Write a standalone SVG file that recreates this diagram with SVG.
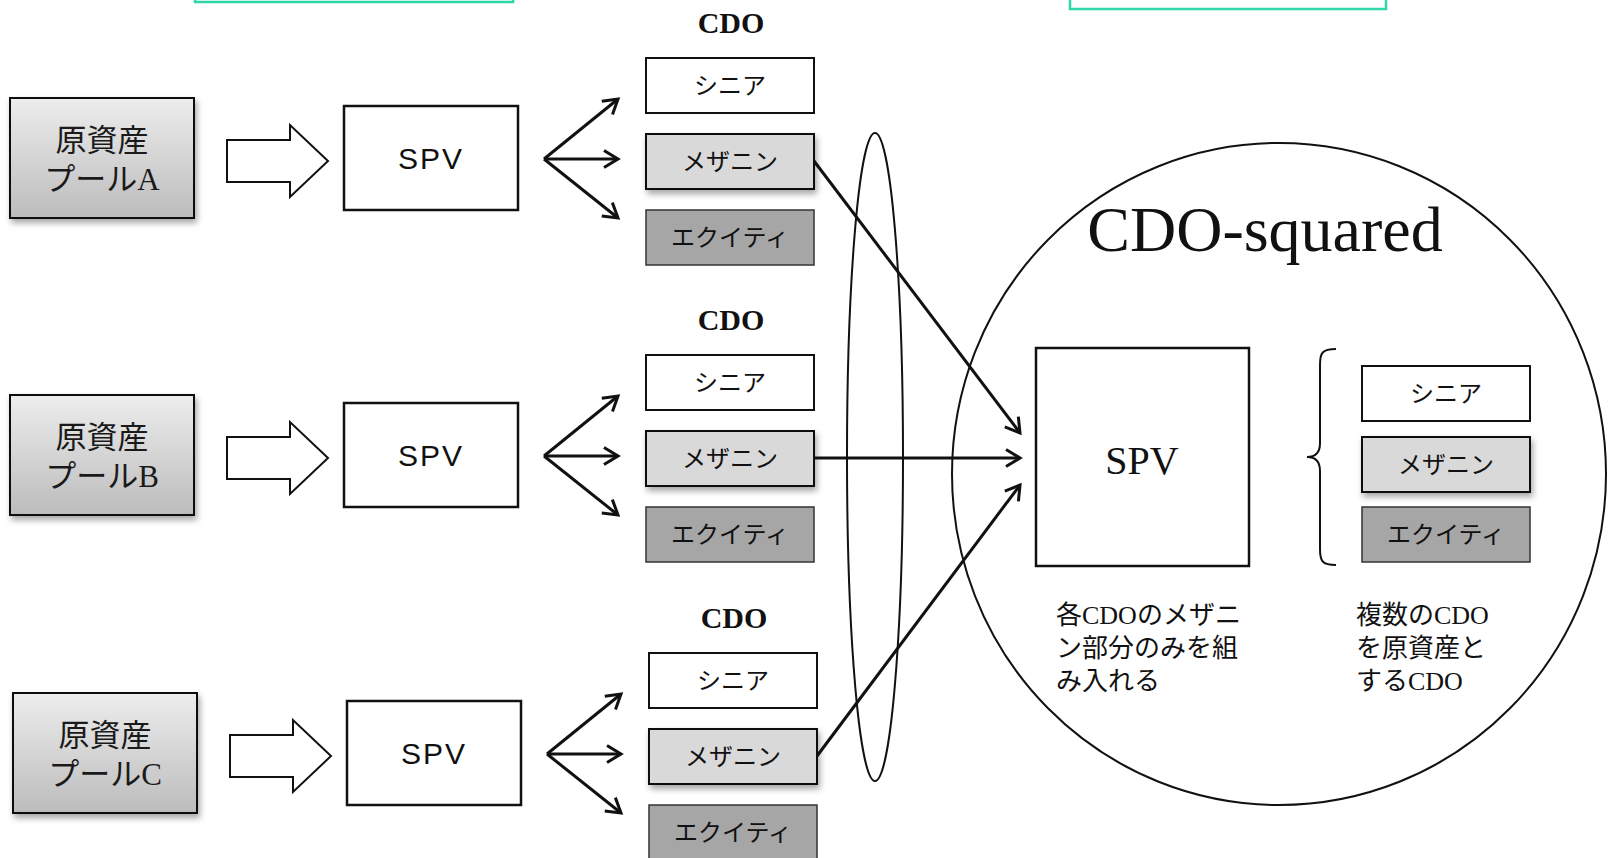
<svg xmlns="http://www.w3.org/2000/svg" width="1608" height="858" viewBox="0 0 1608 858">
  <style>
    .pool { fill: url(#poolGrad); stroke: #111; stroke-width: 2; filter: url(#shadow); }
    .spv { fill: #fff; stroke: #111; stroke-width: 2.5; }
    .senior { fill: #fff; stroke: #111; stroke-width: 2; }
    .mezz { fill: #d9d9d9; stroke: #111; stroke-width: 2; filter: url(#shadow); }
    .equity { fill: #a6a6a6; stroke: #333; stroke-width: 1.5; }
    .block { fill: #fff; stroke: #111; stroke-width: 2; }
    .fan { fill: none; stroke: #111; stroke-width: 3; marker-end: url(#open); }
    .link { fill: none; stroke: #111; stroke-width: 3; marker-end: url(#open); }
    .outline { fill: none; stroke: #111; stroke-width: 2; }
    .teal { fill: none; stroke: #2fd6aa; stroke-width: 2.5; }
    .pt { font-family: "Liberation Serif", "Noto Sans CJK JP", serif; font-size: 31px; fill: #1a1a1a; text-anchor: middle; }
    .tr { font-family: "Noto Sans CJK JP", "Liberation Sans", sans-serif; font-size: 24px; fill: #111; text-anchor: middle; }
    .spvt { font-family: "Liberation Sans", Arial, sans-serif; font-size: 30px; fill: #111; text-anchor: middle; letter-spacing: 2px; }
    .cdo { font-family: "Liberation Serif", serif; font-size: 30px; font-weight: bold; fill: #111; text-anchor: middle; }
    .cap { font-family: "Liberation Serif", "Noto Sans CJK JP", serif; font-size: 26px; fill: #111; }
  </style>
  <defs>
    <linearGradient id="poolGrad" x1="0" y1="0" x2="0" y2="1">
      <stop offset="0" stop-color="#ededed"/>
      <stop offset="1" stop-color="#bcbcbc"/>
    </linearGradient>
    <filter id="shadow" x="-10%" y="-10%" width="130%" height="140%">
      <feDropShadow dx="2" dy="4" stdDeviation="3" flood-color="#000" flood-opacity="0.35"/>
    </filter>
    <marker id="open" markerUnits="userSpaceOnUse" markerWidth="20" markerHeight="20" viewBox="0 0 20 20" refX="17" refY="10" orient="auto">
      <path d="M3,1.5 L17,10 L3,18.5" fill="none" stroke="#111" stroke-width="3" stroke-linejoin="miter"/>
    </marker>
    <path id="blockArrow" d="M0,15 H63 V0 L101,36 L63,72 V57 H0 Z"/>
  </defs>

  <!-- partial frames along the top edge -->
  <rect class="teal" x="195" y="-30" width="318" height="32"/>
  <rect class="teal" x="1070" y="-30" width="316" height="39"/>

  <!-- group ellipse around the mezzanine tranches -->
  <ellipse id="mezz-group" class="outline" cx="875" cy="457" rx="28" ry="324"/>

  <!-- CDO-squared boundary -->
  <g id="cdo-squared">
    <ellipse class="outline" cx="1279" cy="474" rx="327" ry="331"/>
    <text x="1265" y="251" font-family="Liberation Serif, serif" font-size="64" fill="#111" text-anchor="middle">CDO-squared</text>
  </g>

  <!-- row A -->
  <g id="pool-a">
    <rect class="pool" x="10" y="98" width="184" height="120"/>
    <text class="pt" x="102" y="151">原資産</text>
    <text class="pt" x="102" y="190">プールA</text>
  </g>
  <use href="#blockArrow" class="block" x="227" y="125"/>
  <g id="spv-a">
    <rect class="spv" x="344" y="106" width="174" height="104"/>
    <text class="spvt" x="431" y="169">SPV</text>
  </g>
  <g id="cdo-a">
    <text class="cdo" x="731" y="33">CDO</text>
    <rect class="senior" x="646" y="58" width="168" height="55"/>
    <text class="tr" x="730" y="94">シニア</text>
    <rect class="mezz" x="646" y="134" width="168" height="55"/>
    <text class="tr" x="730" y="170">メザニン</text>
    <rect class="equity" x="646" y="210" width="168" height="55"/>
    <text class="tr" x="730" y="246">エクイティ</text>
  </g>

  <!-- row B -->
  <g id="pool-b">
    <rect class="pool" x="10" y="395" width="184" height="120"/>
    <text class="pt" x="102" y="448">原資産</text>
    <text class="pt" x="102" y="487">プールB</text>
  </g>
  <use href="#blockArrow" class="block" x="227" y="422"/>
  <g id="spv-b">
    <rect class="spv" x="344" y="403" width="174" height="104"/>
    <text class="spvt" x="431" y="466">SPV</text>
  </g>
  <g id="cdo-b">
    <text class="cdo" x="731" y="330">CDO</text>
    <rect class="senior" x="646" y="355" width="168" height="55"/>
    <text class="tr" x="730" y="391">シニア</text>
    <rect class="mezz" x="646" y="431" width="168" height="55"/>
    <text class="tr" x="730" y="467">メザニン</text>
    <rect class="equity" x="646" y="507" width="168" height="55"/>
    <text class="tr" x="730" y="543">エクイティ</text>
  </g>

  <!-- row C -->
  <g id="pool-c">
    <rect class="pool" x="13" y="693" width="184" height="120"/>
    <text class="pt" x="105" y="746">原資産</text>
    <text class="pt" x="105" y="785">プールC</text>
  </g>
  <use href="#blockArrow" class="block" x="230" y="720"/>
  <g id="spv-c">
    <rect class="spv" x="347" y="701" width="174" height="104"/>
    <text class="spvt" x="434" y="764">SPV</text>
  </g>
  <g id="cdo-c">
    <text class="cdo" x="734" y="628">CDO</text>
    <rect class="senior" x="649" y="653" width="168" height="55"/>
    <text class="tr" x="733" y="689">シニア</text>
    <rect class="mezz" x="649" y="729" width="168" height="55"/>
    <text class="tr" x="733" y="765">メザニン</text>
    <rect class="equity" x="649" y="805" width="168" height="55"/>
    <text class="tr" x="733" y="841">エクイティ</text>
  </g>

  <!-- CDO-squared vehicle -->
  <g id="spv-sq">
    <rect class="spv" x="1036" y="348" width="213" height="218"/>
    <text x="1142" y="474" font-family="Liberation Serif, serif" font-size="40" fill="#111" text-anchor="middle">SPV</text>
  </g>
  <g id="brace">
    <path class="outline" d="M1336,349 C1322,349 1320,353 1320,365 L1320,443 C1320,452 1316,457 1307,457 C1316,457 1320,462 1320,471 L1320,549 C1320,561 1322,565 1336,565"/>
  </g>
  <g id="cdo-sq">
    <rect class="senior" x="1362" y="366" width="168" height="55"/>
    <text class="tr" x="1446" y="402">シニア</text>
    <rect class="mezz" x="1362" y="437" width="168" height="55"/>
    <text class="tr" x="1446" y="473">メザニン</text>
    <rect class="equity" x="1362" y="507" width="168" height="55"/>
    <text class="tr" x="1446" y="543">エクイティ</text>
  </g>
  <g id="captions">
    <text class="cap" x="1056" y="624">各CDOのメザニ</text>
    <text class="cap" x="1056" y="657">ン部分のみを組</text>
    <text class="cap" x="1056" y="690">み入れる</text>
    <text class="cap" x="1356" y="624">複数のCDO</text>
    <text class="cap" x="1356" y="657">を原資産と</text>
    <text class="cap" x="1356" y="690">するCDO</text>
  </g>

  <!-- connectors -->
  <g id="connectors">
    <path class="fan" d="M544,159 L618,99"/>
    <path class="fan" d="M544,159 L618,159"/>
    <path class="fan" d="M544,159 L618,218"/>
    <path class="fan" d="M544,456 L618,396"/>
    <path class="fan" d="M544,456 L618,456"/>
    <path class="fan" d="M544,456 L618,515"/>
    <path class="fan" d="M547,754 L621,694"/>
    <path class="fan" d="M547,754 L621,754"/>
    <path class="fan" d="M547,754 L621,813"/>
    <path class="link" d="M814,161 L1020,433"/>
    <path class="link" d="M814,458 L1020,458"/>
    <path class="link" d="M817,756 L1020,485"/>
  </g>
</svg>
